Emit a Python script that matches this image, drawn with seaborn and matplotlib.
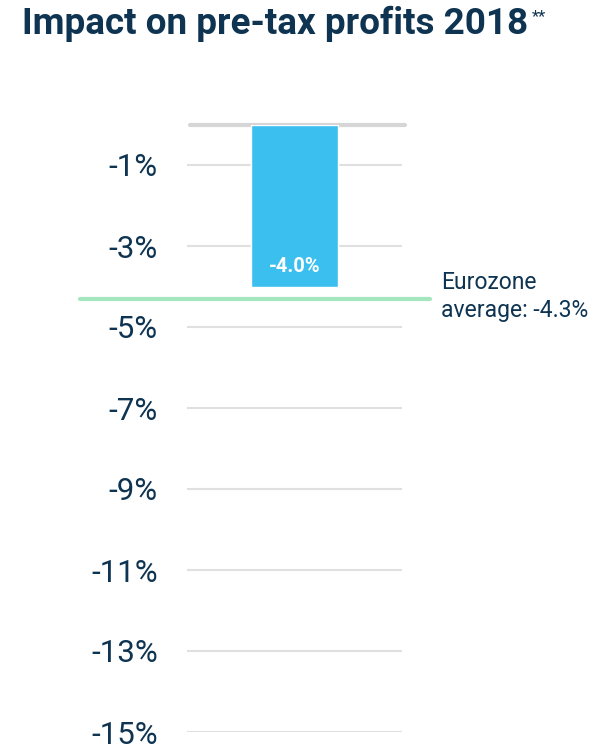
import pandas as pd
import seaborn as sns
import matplotlib.pyplot as plt

sns.set_style("white")
plt.rcParams["font.family"] = ["Roboto", "DejaVu Sans"]

# data
categories = ["Impact"]
impact = [-4.0]
eurozone_avg = -4.3
yticks = [-1, -3, -5, -7, -9, -11, -13, -15]

navy = "#0e3452"
blue = "#3bbfef"
green = "#a3e6bf"
grid = "#e0e0e0"

df = pd.DataFrame({"cat": categories, "value": impact})

fig = plt.figure(figsize=(6.02, 7.44), dpi=100)
ax = fig.add_axes([187 / 602, 12 / 744, 215 / 602, 607.5 / 744])

sns.barplot(data=df, x="cat", y="value", color=blue, width=0.405,
            saturation=1, ax=ax, zorder=3)

ax.set_xlim(-0.5, 0.5)
ax.set_ylim(-15, 0)
ax.set_yticks(yticks)
ax.set_yticklabels([f"{t}%" for t in yticks], fontsize=22.5, color=navy)
ax.tick_params(axis="y", length=0, pad=21)
ax.set_xticks([])
ax.set_xlabel("")
ax.set_ylabel("")
for s in ax.spines.values():
    s.set_visible(False)
for t in yticks:
    ax.axhline(t, color=grid, lw=1.5, zorder=1)
# zero line
ax.axhline(0, xmin=0.014, xmax=1.014, color="#d6d6d6", lw=3, zorder=2, clip_on=False)

# eurozone average
ax.axhline(eurozone_avg, xmin=-0.498, xmax=1.13, color=green, lw=3,
           zorder=4, clip_on=False)
ax.text(1.181, eurozone_avg + 0.05, "Eurozone\naverage: -4.3%", transform=ax.get_yaxis_transform(),
        fontsize=16.5, color=navy, va="center", ha="left", linespacing=1.3)

# bar label
for i, v in enumerate(impact):
    ax.text(i, v + 0.5, f"{v:.1f}%", color="white", fontsize=14.5, fontweight="bold",
            ha="center", va="center", zorder=5)

fig.text(22 / 602, 1 - 24 / 744, "Impact on pre-tax profits 2018", fontsize=26.6,
         fontweight="bold", color=navy, ha="left", va="center")
fig.text(532 / 602, 1 - 17 / 744, "**", fontsize=12, color=navy, ha="left", va="center")

fig.savefig("out.png", dpi=100)
